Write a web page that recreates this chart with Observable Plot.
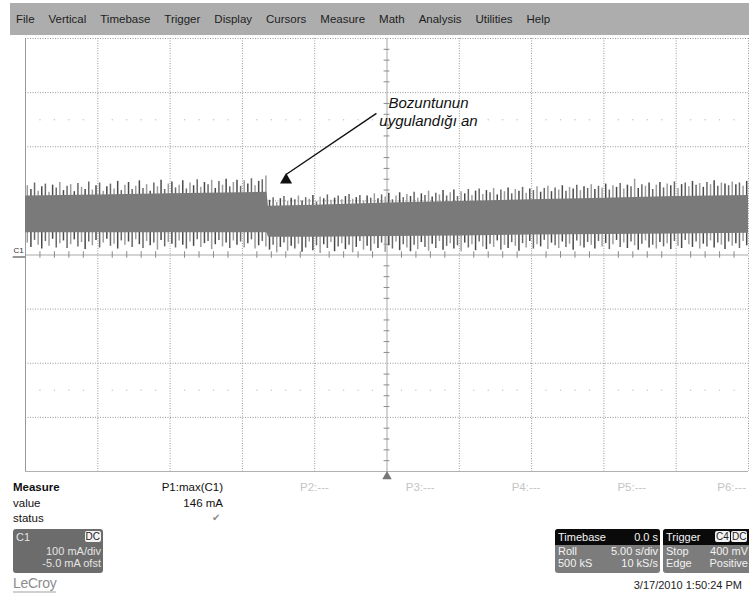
<!DOCTYPE html>
<html>
<head>
<meta charset="utf-8">
<script src="https://cdn.jsdelivr.net/npm/d3@7"></script>
<script src="https://cdn.jsdelivr.net/npm/@observablehq/plot@0.6"></script>
<style>
  body { margin: 0; background: #fff; }
  #page { position: relative; width: 749px; height: 596px; overflow: hidden;
          font-family: "Liberation Sans", Arial, sans-serif; color: #111; }
  #chart { position: absolute; left: 0; top: 0; }
  .menu { position: absolute; left: 10px; top: 3px; width: 739px; height: 32px; background: #adadad;
          display: flex; align-items: center; gap: 14px; padding-left: 6px; box-sizing: border-box;
          font-size: 11.5px; color: #1e1e1e; }
  .abs { position: absolute; white-space: nowrap; font-size: 11.5px; line-height: 13px; }
  .box { position: absolute; border-radius: 3px; overflow: hidden; font-size: 11px; line-height: 12px; }
  .hdr { background: #0a0a0a; color: #f4f4f4; height: 16px; position: relative; }
  .row { position: relative; height: 12px; }
  .l { position: absolute; left: 3px; }
  .r { position: absolute; right: 2px; }
  .tag { background: #f2f2f2; color: #222; border-radius: 2px; padding: 0 1px; font-size: 10px; line-height: 11px; }
</style>
</head>
<body>
<div id="page">
  <div id="chart"></div>
  <div class="menu" id="menu"></div>
  <div id="panel"></div>
</div>
<script>
// ---- Menu bar entries ----
const menuItems = ["File", "Vertical", "Timebase", "Trigger", "Display", "Cursors",
                   "Measure", "Math", "Analysis", "Utilities", "Help"];

// ---- Channel C1 envelope (mA), one pair per 0.25 s acquisition slot, -25 s .. +25 s ----
const spikeHi = [
  128, 121, 133, 118, 126, 131, 116, 129, 124, 134,
  119, 127, 130, 117, 132, 125, 121, 135, 120, 128,
  133, 118, 126, 131, 122, 136, 119, 129, 134, 121,
  127, 137, 123, 130, 118, 133, 126, 138, 121, 131,
  135, 124, 129, 137, 122, 133, 128, 139, 125, 134,
  130, 138, 123, 136, 129, 140, 126, 134, 138, 127,
  137, 131, 141, 128, 136, 139, 146,
  101, 106, 97, 104, 108, 99, 105, 102, 109, 100,
  106, 103, 110, 98, 107, 104, 111, 101, 105, 109,
  102, 108, 112, 103, 106, 110, 100, 109, 105, 113,
  104, 111, 107, 114, 102, 109, 115, 106, 112, 108,
  116, 105, 113, 110, 118, 107, 114, 111, 119, 109,
  115, 120, 108, 117, 113, 121, 110, 118, 122, 112,
  119, 115, 123, 111, 120, 117, 124, 113, 121, 118,
  125, 114, 122, 119, 126, 116, 123, 127, 117, 124,
  120, 128, 118, 125, 122, 129, 119, 126, 123, 130,
  121, 127, 124, 131, 120, 128, 125, 132, 122, 129,
  126, 140, 123, 130, 127, 133, 121, 129, 134, 124,
  131, 128, 135, 123, 130, 133, 126, 136, 129, 132,
  125, 134, 130, 137, 127, 133, 131, 128, 135, 130,
  133, 127, 136
];
const spikeLo = [
  22, 14, 27, 18, 11, 25, 16, 29, 13, 21,
  26, 12, 19, 28, 15, 23, 10, 24, 17, 27,
  13, 22, 29, 16, 20, 11, 26, 18, 24, 14,
  28, 19, 12, 25, 17, 22, 9, 27, 15, 23,
  20, 13, 26, 18, 11, 24, 16, 28, 14, 21,
  25, 10, 19, 27, 15, 22, 12, 26, 18, 24,
  13, 21, 28, 11, 17, 25, 15,
  9, 18, 4, 14, 22, 7, 16, 11, 20, 5,
  13, 24, 8, 17, 3, 19, 12, 23, 6, 15,
  21, 10, 18, 4, 14, 25, 9, 16, 7, 20,
  12, 22, 5, 17, 11, 24, 8, 19, 13, 6,
  18, 10, 23, 14, 7, 20, 12, 25, 9, 16,
  21, 11, 17, 6, 22, 13, 19, 8, 24, 15,
  10, 20, 14, 26, 9, 18, 12, 23, 16, 7,
  21, 13, 25, 11, 19, 15, 27, 10, 22, 17,
  12, 24, 14, 20, 9, 26, 16, 13, 23, 18,
  11, 25, 15, 21, 10, 19, 27, 14, 22, 12,
  24, 17, 9, 20, 26, 13, 18, 11, 23, 15,
  21, 10, 25, 16, 12, 27, 19, 14, 24, 11,
  20, 15, 26, 13, 22, 18, 10, 24, 16, 21,
  12, 25, 17
];

// ---- Dense body of the trace (mA) ----
const coreT  = [-25, -20, -15, -10, -8.3, -8.2, -5, 0, 5, 10, 15, 20, 25];
const coreHi = [109, 111, 113, 115, 116, 90, 92, 96, 99, 102, 105, 108, 110];
const coreLo = [ 41,  41,  41,  41,  41, 33, 33, 34, 35, 37, 38, 39, 40];

// ---- Measurement / descriptor texts ----
const paramNames = ["P1:max(C1)", "P2:---", "P3:---", "P4:---", "P5:---", "P6:---"];
const timebaseRows = [["Roll", "5.00 s/div"], ["500 kS", "10 kS/s"]];
const triggerRows = [["Stop", "400 mV"], ["Edge", "Positive"]];
const stamp = "3/17/2010 1:50:24 PM";

// ---- Graticule: 10 x 5 s horizontal, 8 x 100 mA vertical ----
const majorT = d3.range(-25, 25.001, 5);
const majorV = d3.range(-400, 400.001, 100);
const minorT = d3.range(-25, 25.001, 1).filter(t => Math.abs(t % 5) > 1e-9);
const minorV = d3.range(-400, 400.001, 20).filter(v => Math.abs(v % 100) > 1e-9);

const shades = ["#9c9c9c", "#4a4a4a", "#686868"];
const spikes = spikeHi.map((hi, i) => ({
  t: -25 + (i + 0.5) * 50 / spikeHi.length, hi, lo: spikeLo[i], shade: shades[i % 3]
}));
const core = coreT.map((t, i) => ({t, hi: coreHi[i], lo: coreLo[i]}));

const chart = Plot.plot({
  width: 749, height: 476,
  marginLeft: 25, marginRight: 1, marginTop: 38, marginBottom: 5,
  x: {domain: [-25, 25], axis: null},
  y: {domain: [-400, 400], axis: null},
  color: {type: "identity"},
  style: {background: "transparent", overflow: "visible", fontFamily: "Liberation Sans, Arial, sans-serif"},
  marks: [
    // dotted graticule
    Plot.ruleX(majorT.filter(t => t !== 0 && t !== -25), {stroke: "#9a9a9a", strokeDasharray: "1,1.5"}),
    Plot.ruleY(majorV.filter(v => v !== 0 && v !== -400), {stroke: "#9a9a9a", strokeDasharray: "1,1.5"}),
    Plot.dot(minorT.flatMap(t => [[t, 250], [t, -250]]), {x: d => d[0], y: d => d[1], r: 0.7, fill: "#c4c4c4", stroke: null}),
    // centre axes with fine ticks
    Plot.ruleX([0], {stroke: "#a8a8a8"}),
    Plot.ruleY([0], {stroke: "#a8a8a8"}),
    Plot.ruleX(minorT, {y1: -6, y2: 6, stroke: "#8a8a8a"}),
    Plot.ruleY(minorV, {x1: -0.2, x2: 0.2, stroke: "#8a8a8a"}),
    // frame
    Plot.ruleX([-25], {stroke: "#9a9a9a"}),
    Plot.ruleY([-400], {stroke: "#b0b0b0"}),
    // trace C1
    Plot.ruleX(spikes, {x: "t", y1: "lo", y2: "hi", stroke: "shade", strokeWidth: 1.5}),
    Plot.areaY(core, {x: "t", y1: "lo", y2: "hi", fill: "#7a7a7a"}),
    // channel ground marker
    Plot.text(["C1"], {x: -25, y: 0, dx: -7, dy: -4.5, fontSize: 8, fill: "#333", textAnchor: "middle"}),
    Plot.ruleY([0], {x1: -25.85, x2: -25, dy: 2, stroke: "#333"}),
    // trigger position marker
    Plot.dot([0], {x: 0, y: -400, dy: 5, symbol: "triangle", r: 3.5, fill: "#777", stroke: null}),
    // annotation of the disturbance instant
    Plot.link([0], {x1: -0.73, y1: 261.6, x2: -6.98, y2: 148.8, stroke: "#111", strokeWidth: 1.4}),
    Plot.dot([0], {x: -6.98, y: 138.4, symbol: "triangle", r: 4.5, fill: "#111", stroke: null}),
    Plot.text(["Bozuntunun"], {x: 2.87, y: 279.7, fontSize: 15, fontStyle: "italic", fill: "#111", textAnchor: "middle"}),
    Plot.text(["uygulandığı an"], {x: 2.87, y: 246.4, fontSize: 15, fontStyle: "italic", fill: "#111", textAnchor: "middle"})
  ]
});
document.getElementById("chart").append(chart);

// ---- Menu bar ----
const menu = document.getElementById("menu");
for (const m of menuItems) {
  const s = document.createElement("span");
  s.textContent = m;
  menu.append(s);
}

// ---- Bottom panel ----
const panel = document.getElementById("panel");
function put(html, style) {
  const d = document.createElement("div");
  d.className = "abs";
  d.innerHTML = html;
  Object.assign(d.style, style);
  panel.append(d);
  return d;
}
put("<b>Measure</b>", {left: "13px", top: "481px"});
put("value", {left: "13px", top: "497px"});
put("status", {left: "13px", top: "512px"});
paramNames.forEach((p, k) => {
  const right = Math.min(223 + 105.8 * k, 746);
  put(p, {left: (right - 120) + "px", width: "120px", textAlign: "right", top: "481px",
          color: k === 0 ? "#111" : "#c4c4c4"});
});
put(`${d3.max(spikeHi)} mA`, {left: "123px", width: "100px", textAlign: "right", top: "497px"});
put("✔", {left: "212px", top: "511px", color: "#8a8a8a", fontFamily: "DejaVu Sans", fontSize: "10px"});

// C1 descriptor
const c1 = document.createElement("div");
c1.className = "box";
Object.assign(c1.style, {left: "13px", top: "529px", width: "90px", height: "44px", background: "#6c6c6c", color: "#e4e4e4"});
c1.innerHTML = `
  <div class="row" style="height:16px"><span class="l" style="top:2px">C1</span><span class="r tag" style="top:2px">DC</span></div>
  <div class="row"><span class="r">100 mA/div</span></div>
  <div class="row"><span class="r">-5.0 mA ofst</span></div>`;
panel.append(c1);

// LeCroy mark
put("LeCroy", {left: "13px", top: "576px", color: "#8c8c8c", fontSize: "14px", lineHeight: "15px",
               borderBottom: "2px solid #d0d0d0", letterSpacing: "-0.3px"});

// Timebase descriptor
const tb = document.createElement("div");
tb.className = "box";
Object.assign(tb.style, {left: "555px", top: "529px", width: "105px", height: "44px", background: "#7c7c7c", color: "#f2f2f2"});
tb.innerHTML = `<div class="hdr"><span class="l" style="top:2px">Timebase</span><span class="r" style="top:2px">0.0 s</span></div>` +
  timebaseRows.map(r => `<div class="row"><span class="l">${r[0]}</span><span class="r">${r[1]}</span></div>`).join("");
panel.append(tb);

// Trigger descriptor
const tr = document.createElement("div");
tr.className = "box";
Object.assign(tr.style, {left: "663px", top: "529px", width: "86px", height: "44px", background: "#7c7c7c", color: "#f2f2f2",
                         borderRadius: "3px 0 0 3px"});
tr.innerHTML = `<div class="hdr"><span class="l" style="top:2px">Trigger</span>
  <span class="tag" style="position:absolute;left:52px;top:2px">C4</span><span class="tag" style="position:absolute;left:68px;top:2px">DC</span></div>` +
  triggerRows.map(r => `<div class="row"><span class="l">${r[0]}</span><span class="r" style="right:1px">${r[1]}</span></div>`).join("");
panel.append(tr);

put(stamp, {left: "582px", width: "160px", textAlign: "right", top: "579px", color: "#222", fontSize: "11px"});
</script>
</body>
</html>
